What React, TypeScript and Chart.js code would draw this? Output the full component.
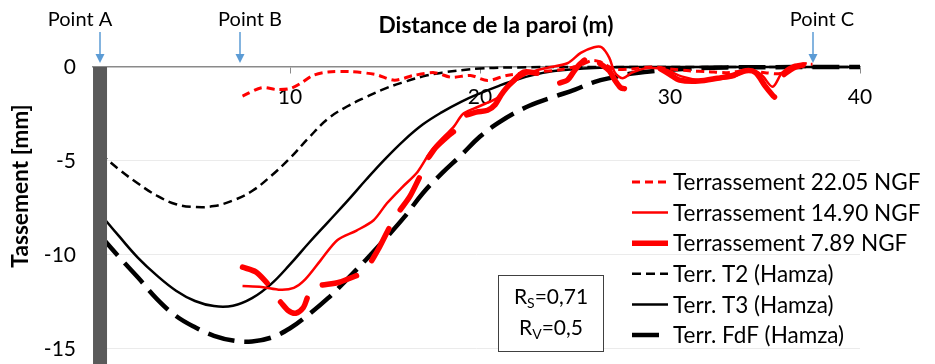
import React, { useEffect, useRef } from 'react';
import { Chart, registerables } from 'chart.js';

Chart.register(...registerables);

const FONT = 'Lato, "Open Sans", sans-serif';

// ---------- data ----------
const xTickValues = [10, 20, 30, 40];
const yTickValues = [-15, -10, -5, 0];

const markerNames = ['Point A', 'Point B', 'Point C'];
const markerX = [0, 7.37, 37.5];

const seriesLabels = [
  'Terrassement 22.05 NGF',
  'Terrassement 14.90 NGF',
  'Terrassement 7.89 NGF',
  'Terr. T2 (Hamza)',
  'Terr. T3 (Hamza)',
  'Terr. FdF (Hamza)',
];

const m2205X = [7.5, 8.5, 9.3, 10.0, 10.6, 11.2, 12.0, 13.2, 14.5, 15.5, 16.5, 17.6, 18.5, 19.5, 20.4, 21.4, 22.8, 24.2, 25.3, 25.9, 26.4, 27.0, 28.0, 29.0, 30.0, 31.0, 32.0, 33.0, 34.0, 35.0, 35.8, 36.3, 37.0, 37.5];
const m2205Y = [-1.55, -1.1, -1.2, -1.15, -0.85, -0.45, -0.27, -0.25, -0.4, -0.7, -0.45, -0.3, -0.55, -0.45, -0.72, -0.45, -0.28, -0.15, 0.1, 0.35, 0.25, -0.1, -0.1, 0, -0.1, -0.2, -0.25, -0.3, -0.2, -0.3, -0.35, -0.05, 0.15, 0.15];

const m1490X = [7.5, 8.5, 9.5, 10.2, 10.8, 11.6, 12.5, 13.5, 14.4, 15.1, 15.9, 16.7, 17.4, 18.1, 18.6, 19.1, 19.7, 20.4, 20.9, 21.3, 21.9, 22.6, 23.5, 24.6, 25.3, 26.0, 26.4, 26.8, 27.1, 27.5, 28.0, 28.8, 29.8, 30.6, 31.6, 32.5, 33.3, 34.2, 34.8, 35.4, 35.9, 36.5, 37.2];
const m1490Y = [-11.65, -11.7, -11.85, -11.75, -11.3, -10.3, -9.2, -8.7, -8.15, -7.25, -6.4, -5.6, -4.5, -3.7, -3.2, -2.5, -2.2, -1.9, -1.65, -1.2, -0.7, -0.3, -0.05, 0.2, 0.75, 1.05, 1.05, 0.5, -0.3, -0.6, -0.3, -0.05, -0.15, -0.5, -0.7, -0.65, -0.55, -0.15, -0.4, -1.05, -0.3, 0.1, 0.2];

const m789X = [7.5, 8.2, 8.8, 9.1, 9.5, 9.9, 10.3, 10.7, 10.9, 11.3, 11.7, 12.6, 13.5, 13.9, 14.3, 14.7, 15.2, 15.5, 15.8, 16.3, 16.8, 17.05, 17.3, 17.7, 18.4, 18.6, 18.9, 19.3, 19.8, 20.4, 20.8, 21.1, 21.4, 21.7, 22.3, 23.0, 23.5, 24.2, 24.6, 24.9, 25.2, 25.5, 25.8, 26.3, 26.8, 27.1, 27.4, 27.6, 28.5, 29.5, 30.0, 30.5, 31.5, 32.5, 33.3, 34.0, 34.5, 35.0, 35.4, 35.5, 35.7, 36.0, 36.5, 37.0];
const m789Y = [-10.65, -10.9, -11.5, null, -12.5, -12.95, -13.1, -12.8, -12.3, null, -11.6, -11.45, -11.1, null, -10.3, -9.6, -8.6, null, -7.6, -6.9, -5.9, null, -4.8, -4.25, -3.6, -3.45, null, -2.55, -2.4, -2.3, -2.0, -1.5, -1.1, -0.8, -0.27, -0.33, null, -0.85, -0.7, -0.3, 0.1, 0.37, null, 0.2, -0.2, -0.7, -1.1, -1.15, null, -0.1, -0.4, -0.7, -0.75, -0.6, -0.45, -0.2, -0.3, -1.0, -1.5, -1.6, null, -0.4, -0.05, 0.1];

const t2X = [0, 1, 2, 3, 4, 5, 6, 7, 8, 9, 10, 11, 12, 13, 14, 15, 16, 17, 18, 20, 22, 25, 30, 40];
const t2Y = [-4.6, -5.45, -6.2, -6.85, -7.3, -7.45, -7.4, -7.1, -6.6, -5.8, -4.85, -3.75, -2.75, -2.1, -1.6, -1.15, -0.8, -0.5, -0.3, -0.08, -0.02, 0, 0, 0];

const t3X = [0, 1, 2, 3, 4, 5, 6, 7, 8, 9, 10, 11, 12, 13, 14, 15, 16, 17, 18, 19, 20, 21, 22, 23, 24, 26, 28, 40];
const t3Y = [-7.8, -9.0, -10.15, -11.1, -11.9, -12.45, -12.72, -12.7, -12.3, -11.55, -10.5, -9.35, -8.25, -7.15, -6.0, -4.9, -3.9, -3.05, -2.4, -1.85, -1.4, -1.0, -0.65, -0.38, -0.2, -0.05, 0, 0];

const fdfX = [0, 1, 2, 3, 4, 5, 6, 7, 8, 9, 10, 11, 12, 13, 14, 15, 16, 17, 18, 19, 20, 21, 22, 23, 24, 25, 26, 27, 28, 30, 33, 40];
const fdfY = [-8.95, -10.1, -11.2, -12.35, -13.25, -13.85, -14.3, -14.55, -14.6, -14.4, -13.9, -13.15, -12.3, -11.3, -10.25, -9.15, -8.0, -6.7, -5.65, -4.7, -3.7, -2.95, -2.35, -1.9, -1.55, -1.2, -0.8, -0.55, -0.35, -0.15, -0.02, 0];

const wallX = [0, 0];
const wallY = [0, -17];

const rsText = ['R', 'S', '=0,71'];
const rvText = ['R', 'V', '=0,5'];

const xTitle = 'Distance de la paroi (m)';
const yTitle = 'Tassement [mm]';

// ---------- helpers ----------
const pts = (xs: number[], ys: (number | null)[]) => xs.map((x, i) => ({ x, y: ys[i] }));

const overlayPlugin = {
  id: 'overlay',
  afterDraw(chart: any) {
    const ctx: CanvasRenderingContext2D = chart.ctx;
    const xs = chart.scales.x;
    ctx.save();
    ctx.fillStyle = '#000';
    ctx.textBaseline = 'middle';

    // axis titles
    ctx.font = `bold 22.7px ${FONT}`;
    ctx.textAlign = 'center';
    ctx.fillText(xTitle, 496, 26);
    ctx.save();
    ctx.translate(21, 186);
    ctx.rotate(-Math.PI / 2);
    ctx.fillText(yTitle, 0, 0);
    ctx.restore();

    // point markers
    const labelOffsets = [-20, 10, 9];
    ctx.font = `20px ${FONT}`;
    markerNames.forEach((name, i) => {
      const px = Math.round(xs.getPixelForValue(markerX[i]));
      ctx.fillStyle = '#000';
      ctx.textAlign = 'center';
      ctx.fillText(name, px + labelOffsets[i], 20);
      ctx.strokeStyle = '#5B9BD5';
      ctx.fillStyle = '#5B9BD5';
      ctx.lineWidth = 1.5;
      ctx.setLineDash([]);
      ctx.beginPath();
      ctx.moveTo(px, 32);
      ctx.lineTo(px, 55);
      ctx.stroke();
      ctx.beginPath();
      ctx.moveTo(px - 4.5, 54);
      ctx.lineTo(px + 4.5, 54);
      ctx.lineTo(px, 63);
      ctx.closePath();
      ctx.fill();
    });

    // legend
    const items = chart.data.datasets.filter((d: any) => d.label);
    items.forEach((d: any, i: number) => {
      const cy = 182 + i * 30.6;
      ctx.save();
      ctx.strokeStyle = d.borderColor;
      ctx.lineWidth = d.borderWidth;
      ctx.setLineDash(d.borderDash || []);
      ctx.lineCap = 'butt';
      ctx.beginPath();
      ctx.moveTo(632, cy);
      ctx.lineTo(668, cy);
      ctx.stroke();
      ctx.restore();
      ctx.fillStyle = '#000';
      ctx.textAlign = 'left';
      ctx.font = `22.5px ${FONT}`;
      ctx.fillText(d.label, 673, cy + 1);
    });

    // R box
    ctx.fillStyle = '#fff';
    ctx.fillRect(498, 275, 105, 76);
    ctx.strokeStyle = '#404040';
    ctx.lineWidth = 1;
    ctx.strokeRect(498.5, 275.5, 105, 76);
    const drawSub = (parts: string[], cx: number, cy: number) => {
      ctx.font = `21px ${FONT}`;
      const w1 = ctx.measureText(parts[0]).width;
      const w3 = ctx.measureText(parts[2]).width;
      ctx.font = `14px ${FONT}`;
      const w2 = ctx.measureText(parts[1]).width;
      const x0 = cx - (w1 + w2 + w3) / 2;
      ctx.fillStyle = '#000';
      ctx.textAlign = 'left';
      ctx.font = `21px ${FONT}`;
      ctx.fillText(parts[0], x0, cy);
      ctx.font = `14px ${FONT}`;
      ctx.fillText(parts[1], x0 + w1, cy + 6);
      ctx.font = `21px ${FONT}`;
      ctx.fillText(parts[2], x0 + w1 + w2, cy);
    };
    drawSub(rsText, 551, 297);
    drawSub(rvText, 551, 328);

    ctx.restore();
  },
};

export default function App() {
  const ref = useRef<HTMLCanvasElement | null>(null);

  useEffect(() => {
    if (!ref.current) return;
    const common = { pointRadius: 0, pointHoverRadius: 0, fill: false, clip: false as any };
    const chart = new Chart(ref.current, {
      type: 'line',
      data: {
        datasets: [
          { ...common, label: seriesLabels[0], data: pts(m2205X, m2205Y), borderColor: '#FF0000', borderWidth: 3, borderDash: [8, 5], tension: 0.3 },
          { ...common, label: seriesLabels[1], data: pts(m1490X, m1490Y), borderColor: '#FF0000', borderWidth: 2.5, tension: 0.3 },
          { ...common, label: seriesLabels[2], data: pts(m789X, m789Y), borderColor: '#FF0000', borderWidth: 5.5, borderCapStyle: 'round', tension: 0.3, spanGaps: false },
          { ...common, label: seriesLabels[3], data: pts(t2X, t2Y), borderColor: '#000', borderWidth: 2.5, borderDash: [9, 5], tension: 0.4 },
          { ...common, label: seriesLabels[4], data: pts(t3X, t3Y), borderColor: '#000', borderWidth: 2.5, tension: 0.4 },
          { ...common, label: seriesLabels[5], data: pts(fdfX, fdfY), borderColor: '#000', borderWidth: 4.5, borderDash: [27, 10], tension: 0.4 },
          { ...common, label: '', data: pts(wallX, wallY), borderColor: '#5a5a5a', borderWidth: 14, order: -1 },
        ] as any,
      },
      options: {
        animation: false,
        responsive: false,
        devicePixelRatio: 1,
        layout: { padding: { top: 67, right: 75, left: 0, bottom: 0 } },
        plugins: { legend: { display: false }, tooltip: { enabled: false }, title: { display: false } },
        scales: {
          x: {
            type: 'linear',
            position: { y: 0 } as any,
            min: -0.37,
            max: 40,
            afterFit: (s: any) => { s.height = 0; s.paddingBottom = 0; s.paddingTop = 0; },
            afterBuildTicks: (s: any) => { s.ticks = xTickValues.map((v) => ({ value: v })); },
            grid: { drawOnChartArea: false, drawTicks: true, tickLength: 6, tickColor: '#8a8a8a' },
            border: { display: true, color: '#8a8a8a', width: 1.5 },
            ticks: { font: { family: FONT, size: 21 }, color: '#000', padding: 12, maxRotation: 0 },
          },
          y: {
            type: 'linear',
            position: 'left',
            min: -15.8,
            max: 0,
            afterFit: (s: any) => { s.width = 93; s.paddingBottom = 0; s.paddingTop = 0; },
            afterBuildTicks: (s: any) => { s.ticks = yTickValues.map((v) => ({ value: v })); },
            grid: {
              drawTicks: false,
              color: (c: any) => (c.tick && c.tick.value === 0 ? 'rgba(0,0,0,0)' : '#ebebeb'),
              lineWidth: 1,
            },
            border: { display: false },
            ticks: { font: { family: FONT, size: 21 }, color: '#000', padding: 17 },
          },
        },
      },
      plugins: [overlayPlugin],
    });
    return () => chart.destroy();
  }, []);

  return (
    <div style={{ position: 'fixed', left: 0, top: 0, width: 935, height: 364, background: '#fff' }}>
      <canvas ref={ref} width={935} height={364} style={{ width: 935, height: 364, display: 'block' }} />
    </div>
  );
}
